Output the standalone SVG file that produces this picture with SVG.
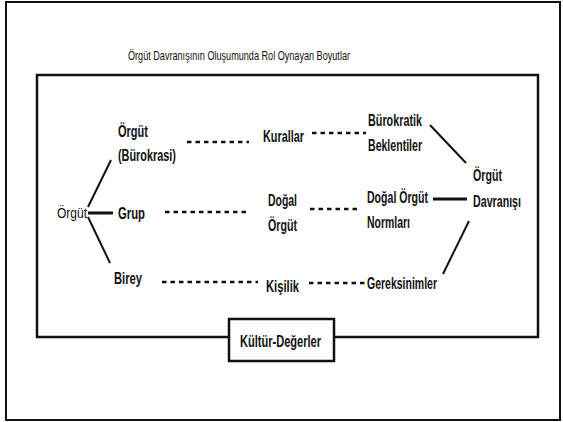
<svg xmlns="http://www.w3.org/2000/svg" width="563" height="422" viewBox="0 0 563 422">
<style>
text{font-family:"Liberation Sans",Arial,sans-serif;fill:#111}
.b{font-weight:bold;font-size:16.5px}
.r{font-size:14px}
.t{font-size:13px}
.dash{stroke:#111;stroke-width:2.5;stroke-dasharray:4.5 4;fill:none}
.sol{stroke:#111;stroke-width:2;fill:none}
.thick{stroke:#111;stroke-width:3;fill:none}
</style>
<rect x="0" y="0" width="563" height="422" fill="#fff"/>
<rect id="frame" x="6" y="2" width="554" height="418" fill="none" stroke="#111" stroke-width="2"/>
<text id="title" class="t" x="128" y="60" textLength="222" lengthAdjust="spacingAndGlyphs">Örgüt Davranışının Oluşumunda Rol Oynayan Boyutlar</text>
<rect id="inner" x="37" y="75" width="501" height="262" fill="none" stroke="#111" stroke-width="2.5"/>
<g id="connectors">
<line class="sol" x1="88" y1="207" x2="111" y2="160"/>
<line class="thick" x1="88" y1="213" x2="113" y2="213"/>
<line class="sol" x1="88" y1="217" x2="110" y2="263"/>
<line class="dash" x1="187" y1="142" x2="249" y2="142"/>
<line class="dash" x1="312" y1="133" x2="366" y2="133"/>
<line class="dash" x1="165" y1="212" x2="249" y2="212"/>
<line class="dash" x1="310" y1="209" x2="361" y2="209"/>
<line class="dash" x1="162" y1="282" x2="258" y2="282"/>
<line class="dash" x1="309" y1="283" x2="366" y2="283"/>
<line class="sol" x1="430" y1="125" x2="466" y2="163"/>
<line class="thick" x1="433" y1="199" x2="467" y2="199"/>
<line class="sol" x1="443" y1="274" x2="469" y2="221"/>
</g>
<g id="n-orgut"><text class="r" x="57" y="218" textLength="30" lengthAdjust="spacingAndGlyphs">Örgüt</text></g>
<g id="n-burokrasi"><text class="b" x="118" y="137" textLength="30" lengthAdjust="spacingAndGlyphs">Örgüt</text><text class="b" x="118" y="161" textLength="58" lengthAdjust="spacingAndGlyphs">(Bürokrasi)</text></g>
<g id="n-grup"><text class="b" x="118" y="219" textLength="27" lengthAdjust="spacingAndGlyphs">Grup</text></g>
<g id="n-birey"><text class="b" x="114" y="284" textLength="28" lengthAdjust="spacingAndGlyphs">Birey</text></g>
<g id="n-kurallar"><text class="b" x="263" y="142" textLength="41" lengthAdjust="spacingAndGlyphs">Kurallar</text></g>
<g id="n-dogal"><text class="b" x="268" y="206" textLength="29" lengthAdjust="spacingAndGlyphs">Doğal</text><text class="b" x="268" y="231" textLength="29" lengthAdjust="spacingAndGlyphs">Örgüt</text></g>
<g id="n-kisilik"><text class="b" x="266" y="292" textLength="33" lengthAdjust="spacingAndGlyphs">Kişilik</text></g>
<g id="n-beklenti"><text class="b" x="368" y="126" textLength="54" lengthAdjust="spacingAndGlyphs">Bürokratik</text><text class="b" x="368" y="151" textLength="54" lengthAdjust="spacingAndGlyphs">Beklentiler</text></g>
<g id="n-normlar"><text class="b" x="367" y="203" textLength="61" lengthAdjust="spacingAndGlyphs">Doğal Örgüt</text><text class="b" x="367" y="228" textLength="43" lengthAdjust="spacingAndGlyphs">Normları</text></g>
<g id="n-gereksinim"><text class="b" x="367" y="289" textLength="70" lengthAdjust="spacingAndGlyphs">Gereksinimler</text></g>
<g id="n-davranis"><text class="b" x="473" y="181" textLength="29" lengthAdjust="spacingAndGlyphs">Örgüt</text><text class="b" x="473" y="207" textLength="48" lengthAdjust="spacingAndGlyphs">Davranışı</text></g>
<g id="n-kultur"><rect x="229" y="319" width="105" height="42" fill="#fff" stroke="#111" stroke-width="2.5"/><text class="b" x="240" y="347" textLength="81" lengthAdjust="spacingAndGlyphs">Kültür-Değerler</text></g>
</svg>
